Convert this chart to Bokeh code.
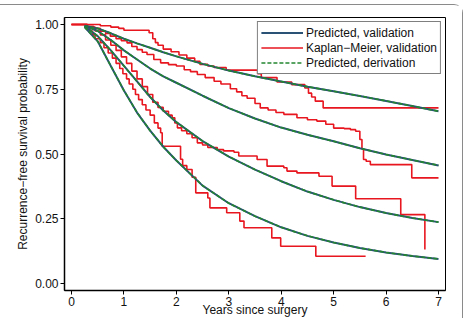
from bokeh.plotting import figure
from bokeh.models import Range1d, FixedTicker, Legend, LegendItem
from bokeh.embed import file_html
from bokeh.resources import INLINE

# ---------------- data ----------------
x_ticks = [0, 1, 2, 3, 4, 5, 6, 7]
y_ticks = [0.0, 0.25, 0.5, 0.75, 1.0]
y_tick_labels = {0.0: "0.00", 0.25: "0.25", 0.5: "0.50", 0.75: "0.75", 1.0: "1.00"}
x_title = "Years since surgery"
y_title = "Recurrence\u2212free survival probability"

# predicted survival (validation & derivation overlap)
pred_t = [0.25, 0.5, 0.75, 1.0, 1.25, 1.5, 1.75, 2.0, 2.5, 3.0, 3.5, 4.0, 4.5, 5.0, 5.5, 6.0, 6.5, 7.0]
pred_a = [0.995, 0.985, 0.966, 0.945, 0.927, 0.91, 0.893, 0.877, 0.848, 0.822, 0.80, 0.78, 0.76, 0.742, 0.724, 0.705, 0.685, 0.665]
pred_b = [0.995, 0.975, 0.94, 0.90, 0.865, 0.83, 0.80, 0.775, 0.725, 0.677, 0.637, 0.602, 0.574, 0.549, 0.522, 0.498, 0.477, 0.456]
pred_c = [0.993, 0.955, 0.90, 0.84, 0.78, 0.72, 0.668, 0.623, 0.55, 0.49, 0.44, 0.395, 0.355, 0.323, 0.295, 0.272, 0.253, 0.237]
pred_d = [0.99, 0.935, 0.84, 0.745, 0.66, 0.59, 0.528, 0.475, 0.378, 0.31, 0.26, 0.217, 0.184, 0.158, 0.137, 0.12, 0.106, 0.095]

# Kaplan-Meier, validation (step functions)
km1_t = [0, 0.55, 0.75, 0.9, 1.0, 1.48, 1.55, 1.6, 1.65, 1.75, 1.9, 2.05, 2.2, 2.35, 2.45, 2.6, 2.72, 2.95,
         3.55, 3.62, 3.92, 4.2, 4.45, 4.52, 4.58, 4.65, 4.8, 7.0]
km1_s = [1.0, 0.995, 0.99, 0.985, 0.978, 0.968, 0.945, 0.93, 0.92, 0.905, 0.895, 0.882, 0.87, 0.858, 0.846, 0.84, 0.834, 0.824,
         0.81, 0.795, 0.778, 0.768, 0.755, 0.735, 0.72, 0.704, 0.678, 0.678]

km2_t = [0, 0.3, 0.42, 0.55, 0.65, 0.74, 0.85, 0.95, 1.06, 1.15, 1.25, 1.35, 1.44, 1.57, 1.7, 1.85, 2.0, 2.15,
         2.27, 2.4, 2.55, 2.72, 2.85, 3.03, 3.15, 3.25, 3.35, 3.5, 3.6, 3.75, 3.9, 4.05, 4.3, 4.5, 4.68, 4.85,
         5.0, 5.2, 5.32, 5.42, 5.5, 5.54, 5.57, 5.62, 5.7, 6.49, 7.0]
km2_s = [1.0, 0.993, 0.985, 0.974, 0.965, 0.955, 0.945, 0.937, 0.929, 0.915, 0.903, 0.893, 0.884, 0.865, 0.852, 0.845, 0.84, 0.825,
         0.818, 0.807, 0.795, 0.781, 0.77, 0.752, 0.74, 0.725, 0.715, 0.695, 0.678, 0.67, 0.66, 0.653, 0.64, 0.632, 0.627, 0.615,
         0.6, 0.598, 0.594, 0.588, 0.556, 0.52, 0.479, 0.472, 0.459, 0.408, 0.408]

km3_t = [0, 0.3, 0.45, 0.55, 0.65, 0.75, 0.85, 0.95, 1.05, 1.15, 1.25, 1.35, 1.45, 1.55, 1.65, 1.75, 1.85, 1.92,
         1.97, 2.02, 2.1, 2.2, 2.3, 2.4, 2.5, 2.6, 2.78, 2.9, 3.1, 3.19, 3.54, 3.73, 4.05, 4.11, 4.3, 4.72, 4.97,
         5.42, 6.28, 6.74]
km3_s = [1.0, 0.99, 0.975, 0.96, 0.94, 0.92, 0.9, 0.875, 0.85, 0.82, 0.79, 0.76, 0.73, 0.7, 0.68, 0.665, 0.65, 0.64,
         0.62, 0.601, 0.59, 0.578, 0.563, 0.543, 0.535, 0.525, 0.517, 0.512, 0.507, 0.492, 0.479, 0.453, 0.447, 0.434, 0.427, 0.414, 0.376,
         0.327, 0.266, 0.131]

km4_t = [0, 0.3, 0.35, 0.4, 0.45, 0.55, 0.62, 0.7, 0.78, 0.85, 0.92, 0.98, 1.05, 1.1, 1.17, 1.22, 1.28, 1.35,
         1.42, 1.5, 1.58, 1.65, 1.7, 1.73, 2.08, 2.12, 2.2, 2.3, 2.37, 2.6, 2.64, 2.96, 3.21, 3.29, 3.82, 3.99,
         4.66, 5.61]
km4_s = [1.0, 0.99, 0.975, 0.96, 0.945, 0.93, 0.91, 0.89, 0.87, 0.85, 0.83, 0.81, 0.79, 0.77, 0.75, 0.73, 0.71, 0.69,
         0.67, 0.65, 0.62, 0.6, 0.582, 0.53, 0.48, 0.455, 0.44, 0.41, 0.35, 0.33, 0.292, 0.273, 0.241, 0.215, 0.176, 0.144,
         0.105, 0.105]

legend_labels = ["Predicted, validation", "Kaplan\u2212Meier, validation", "Predicted, derivation"]

# ---------------- styles ----------------
RED = "#e8161f"
BLUE = "#2a5275"
GREEN = "#23872f"
FONT = "Liberation Sans"

p = figure(width=463, height=314, output_backend="svg", toolbar_location=None,
           x_range=Range1d(-0.1335, 7.1335), y_range=Range1d(-0.027, 1.027),
           min_border_left=64, min_border_right=18, min_border_top=12, min_border_bottom=29,
           background_fill_color="white", border_fill_color="white")
p.styles = {"margin-top": "4px", "border-top": "1.5px solid #8a8a8a",
            "border-right": "1.5px solid #8a8a8a", "border-top-right-radius": "9px"}
p.outline_line_color = "black"
p.outline_line_width = 1
p.grid.visible = False

for ax in (p.xaxis[0], p.yaxis[0]):
    ax.axis_line_width = 1.5
    ax.axis_line_color = "black"
    ax.major_tick_out = 4
    ax.major_tick_in = 0
    ax.minor_tick_out = 0
    ax.minor_tick_in = 0
    ax.major_tick_line_color = "black"
    ax.major_label_text_font = FONT
    ax.major_label_text_font_size = "12px"
    ax.major_label_text_color = "#111111"
    ax.axis_label_text_font = FONT
    ax.axis_label_text_font_size = "12px"
    ax.axis_label_text_font_style = "normal"
    ax.axis_label_text_color = "#111111"

p.xaxis.ticker = FixedTicker(ticks=x_ticks)
p.yaxis.ticker = FixedTicker(ticks=y_ticks)
p.yaxis.major_label_overrides = y_tick_labels
p.xaxis.axis_label = x_title
p.yaxis.axis_label = y_title
p.xaxis.major_label_standoff = 2
p.xaxis.axis_label_standoff = -6
p.yaxis.major_label_standoff = 2
p.yaxis.axis_label_standoff = 2

# KM curves
km_r = None
for t, s in ((km1_t, km1_s), (km2_t, km2_s), (km3_t, km3_s), (km4_t, km4_s)):
    r = p.step(t, s, mode="after", line_color=RED, line_width=1.6)
    if km_r is None:
        km_r = r

# predicted curves: validation (solid) then derivation (dashed) on top
val_r = None
der_r = None
for ys in (pred_a, pred_b, pred_c, pred_d):
    r1 = p.line(pred_t, ys, line_color=BLUE, line_width=2.0)
    r2 = p.line(pred_t, ys, line_color=GREEN, line_width=1.6, line_dash="4 2")
    if val_r is None:
        val_r, der_r = r1, r2

legend = Legend(items=[LegendItem(label=legend_labels[0], renderers=[val_r]),
                       LegendItem(label=legend_labels[1], renderers=[km_r]),
                       LegendItem(label=legend_labels[2], renderers=[der_r])],
                location="top_right")
legend.margin = 4
legend.padding = 3
legend.spacing = 0
legend.glyph_width = 42
legend.glyph_height = 15
legend.label_height = 15
legend.label_standoff = 3
legend.label_text_font = FONT
legend.label_text_font_size = "12px"
legend.label_text_color = "#111111"
legend.border_line_color = "black"
legend.border_line_width = 1
legend.background_fill_alpha = 1
p.add_layout(legend)

open("out.html", "w").write(file_html(p, INLINE))
